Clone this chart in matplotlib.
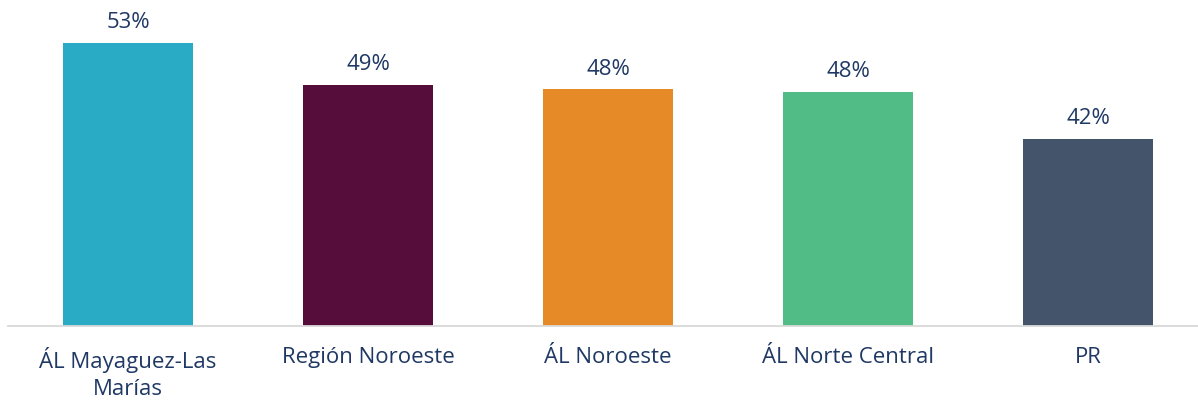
import matplotlib
matplotlib.use("Agg")
import matplotlib.pyplot as plt

categories = ["ÁL Mayaguez-Las\nMarías", "Región Noroeste", "ÁL Noroeste", "ÁL Norte Central", "PR"]
values = [53.4, 48.6, 48.1, 47.8, 42.4]
labels = ["53%", "49%", "48%", "48%", "42%"]
colors = ["#29AAC5", "#560D3B", "#E58A27", "#52BC87", "#44546A"]

text_color = "#1F3864"
plt.rcParams['font.family'] = ['Open Sans', 'DejaVu Sans']

W, H = 1198, 401
fig = plt.figure(figsize=(W / 100, H / 100), dpi=100)
left, right = 8, 1198
bottom_px, top_px = 326, 0
ax = fig.add_axes([left / W, 1 - bottom_px / H, (right - left) / W, (bottom_px - top_px) / H])

ymin = 21.0
px_per_unit = 8.727
ymax = ymin + (bottom_px - top_px) / px_per_unit
ax.set_ylim(ymin, ymax)
ax.set_xlim(-0.5, -0.5 + (right - left) / 240)

x = list(range(len(categories)))
bars = ax.bar(x, [v - ymin for v in values], bottom=ymin, width=0.54, color=colors)

for xi, v, lab in zip(x, values, labels):
    ax.annotate(lab, (xi, v), xytext=(0, 16.5), textcoords="offset points",
                ha="center", va="center_baseline", fontsize=16, color=text_color)

ax.set_xticks(x)
ax.set_xticklabels(categories, fontsize=16, color=text_color, linespacing=1.38)
ax.tick_params(axis="x", length=0, pad=15)
ax.set_yticks([])
for s in ["top", "right", "left"]:
    ax.spines[s].set_visible(False)
ax.spines["bottom"].set_color("#D9D9D9")
ax.spines["bottom"].set_linewidth(1.3)

fig.savefig("out.png", dpi=100)
